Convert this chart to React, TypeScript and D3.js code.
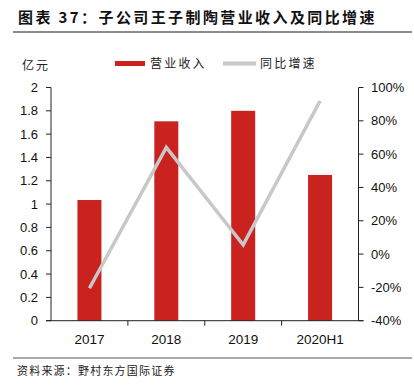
import React from "react";
import * as d3 from "d3";

const categories = ["2017", "2018", "2019", "2020H1"];
const revenue = [1.035, 1.71, 1.8, 1.25];
const growth = [-20.5, 64, 5.5, 92];
const leftTicks = [0, 0.2, 0.4, 0.6, 0.8, 1, 1.2, 1.4, 1.6, 1.8, 2];
const rightTicks = [-40, -20, 0, 20, 40, 60, 80, 100];

const W = 414;
const H = 391;
const left = 51;
const right = 358.5;
const top = 87.5;
const bottom = 320.7;
const RED = "#C9221F";
const GREY = "#C8C8C8";
const font = "'Liberation Sans', Arial, sans-serif";
const cjk = "'Noto Sans CJK SC', sans-serif";

export default function App() {
  const x = d3.scaleBand<string>().domain(categories).range([left, right]);
  const yL = d3.scaleLinear().domain([0, 2]).range([bottom, top]);
  const yR = d3.scaleLinear().domain([-40, 100]).range([bottom, top]);
  const barW = 24;
  const line = d3
    .line<number>()
    .x((_, i) => (x(categories[i]) as number) + x.bandwidth() / 2)
    .y((d) => yR(d));

  return (
    <svg width={W} height={H} style={{ position: "absolute", left: 0, top: 0, background: "#fff" }}>
      <text x={18} y={23} fontFamily={cjk} fontWeight="bold" fontSize={15} letterSpacing={2.4} fill="#111">
        图表 37：子公司王子制陶营业收入及同比增速
      </text>
      <line x1={13} x2={412} y1={32} y2={32} stroke="#8c8c8c" strokeWidth={2} />

      <text x={22} y={70} fontFamily={cjk} fontSize={12} letterSpacing={2} fill="#222">亿元</text>

      {/* legend */}
      <rect x={115} y={61} width={30} height={5} fill={RED} />
      <text x={150} y={67.5} fontFamily={cjk} fontSize={12} letterSpacing={2.2} fill="#222">营业收入</text>
      <line x1={223} x2={256} y1={63.5} y2={63.5} stroke={GREY} strokeWidth={4} />
      <text x={260} y={67.5} fontFamily={cjk} fontSize={12} letterSpacing={2.2} fill="#222">同比增速</text>

      {/* bars */}
      {revenue.map((v, i) => (
        <rect
          key={categories[i]}
          x={(x(categories[i]) as number) + x.bandwidth() / 2 - barW / 2}
          y={yL(v)}
          width={barW}
          height={yL(0) - yL(v)}
          fill={RED}
        />
      ))}

      {/* line */}
      <path d={line(growth) || ""} fill="none" stroke={GREY} strokeWidth={3.5} strokeLinejoin="miter" />

      {/* left axis */}
      <line x1={left} x2={left} y1={top} y2={bottom} stroke="#222" strokeWidth={1} />
      {leftTicks.map((t) => (
        <g key={t}>
          <line x1={left - 5} x2={left} y1={yL(t)} y2={yL(t)} stroke="#222" />
          <text x={38} y={yL(t) + 4.5} textAnchor="end" fontFamily={font} fontSize={13} fill="#111">
            {String(t)}
          </text>
        </g>
      ))}

      {/* right axis */}
      <line x1={right} x2={right} y1={top} y2={bottom} stroke="#222" strokeWidth={1} />
      {rightTicks.map((t) => (
        <g key={t}>
          <line x1={right} x2={right + 5} y1={yR(t)} y2={yR(t)} stroke="#222" />
          <text x={371} y={yR(t) + 4.5} textAnchor="start" fontFamily={font} fontSize={13} fill="#111">
            {`${t}%`}
          </text>
        </g>
      ))}

      {/* x axis */}
      <line x1={left - 5} x2={right + 5} y1={bottom} y2={bottom} stroke="#222" strokeWidth={1} />
      {categories.map((c, i) => (
        <g key={c}>
          {i > 0 && (
            <line x1={x(c) as number} x2={x(c) as number} y1={bottom} y2={bottom + 5} stroke="#222" />
          )}
          <text
            x={(x(c) as number) + x.bandwidth() / 2}
            y={344}
            textAnchor="middle"
            fontFamily={font}
            fontSize={13.5}
            fill="#111"
          >
            {c}
          </text>
        </g>
      ))}

      <line x1={13} x2={412} y1={358} y2={358} stroke="#8c8c8c" strokeWidth={1.5} />
      <text x={17} y={375} fontFamily={cjk} fontSize={11} letterSpacing={1.2} fill="#222">
        资料来源：野村东方国际证券
      </text>
    </svg>
  );
}
